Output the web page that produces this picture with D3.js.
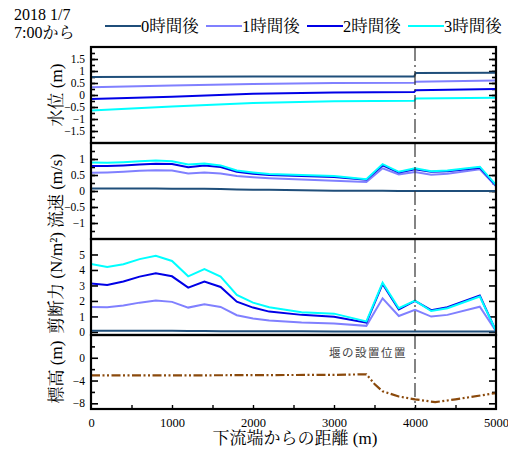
<!DOCTYPE html>
<html><head><meta charset="utf-8">
<script src="https://cdn.jsdelivr.net/npm/d3@7"></script>
<style>body{margin:0;background:#fff}svg{display:block}text{fill:#000}</style>
</head><body><svg id="c" width="508" height="449"></svg>
<script>
const seriesNames = ["0時間後","1時間後","2時間後","3時間後"];
const seriesColors = ["#1f4e7a","#8080ff","#0000e6","#00ffff"];
const xTicks = [0,1000,2000,3000,4000,5000];

// water level
const wlX = [0,1000,2000,3000,3990,4010,5000];
const wl0 = [0.75,0.76,0.77,0.77,0.77,0.92,0.93];
const wl1 = [0.32,0.40,0.46,0.50,0.51,0.55,0.60];
const wl2 = [-0.17,-0.07,0.05,0.10,0.13,0.20,0.25];
const wl3 = [-0.65,-0.48,-0.33,-0.26,-0.24,-0.15,-0.11];

// velocity and shear share stations
const stX = [0,200,400,600,800,1000,1200,1400,1600,1800,2000,2200,2600,3000,3400,3600,3800,4000,4200,4400,4800,5000];
const vel0 = [0.08,0.08,0.08,0.08,0.08,0.07,0.07,0.07,0.06,0.05,0.04,0.04,0.02,0.01,0.01,0.01,0.0,0.0,0.0,0.0,0.0,0.0];
const vel1 = [0.57,0.58,0.60,0.63,0.65,0.64,0.55,0.58,0.55,0.47,0.43,0.40,0.36,0.32,0.28,0.71,0.52,0.59,0.51,0.54,0.68,0.15];
const vel2 = [0.78,0.78,0.80,0.83,0.85,0.84,0.74,0.80,0.75,0.60,0.54,0.50,0.47,0.44,0.35,0.80,0.58,0.68,0.60,0.62,0.73,0.17];
const vel3 = [0.89,0.88,0.90,0.93,0.95,0.93,0.83,0.86,0.80,0.64,0.58,0.53,0.50,0.47,0.37,0.84,0.60,0.71,0.62,0.64,0.76,0.19];
const sh0 = [0.08,0.08,0.08,0.07,0.07,0.07,0.06,0.06,0.05,0.05,0.05,0.04,0.04,0.03,0.03,0.03,0.02,0.02,0.02,0.02,0.02,0.02];
const sh1 = [1.61,1.59,1.70,1.89,2.02,1.94,1.57,1.79,1.61,1.08,0.86,0.73,0.60,0.54,0.39,2.17,1.03,1.42,0.99,1.10,1.63,0.04];
const sh2 = [3.12,3.03,3.25,3.57,3.79,3.59,2.86,3.25,2.90,1.95,1.57,1.31,1.10,0.98,0.60,3.10,1.45,2.00,1.40,1.60,2.35,0.05];
const sh3 = [4.39,4.19,4.37,4.70,4.92,4.58,3.59,4.06,3.57,2.39,1.89,1.59,1.27,1.18,0.68,3.18,1.53,2.02,1.35,1.53,2.28,0.06];

// bed elevation
const bedX = [0,1000,2000,3000,3400,3500,3600,3800,4000,4250,4500,5000];
const bedZ = [-3.1,-3.1,-3.05,-3.0,-2.9,-4.6,-5.9,-6.8,-7.3,-7.8,-7.3,-6.2];
const weirX = 4000;

const SERIF = '"Liberation Serif","Times New Roman",Times,"Noto Serif CJK JP","Noto Sans CJK JP",serif';
const svg = d3.select("#c");
const L = 91, R = 496;
const x = d3.scaleLinear().domain([0,5000]).range([L,R]);

const panels = [
  {top:47,bottom:143,domain:[-2,2],major:[-1.5,-1,-0.5,0,0.5,1,1.5],minor:d3.range(-1.75,1.76,0.25),label:"水位 (m)",
   xs:wlX,ys:[wl0,wl1,wl2,wl3]},
  {top:143,bottom:239,domain:[-1.5,1.5],major:[-1,-0.5,0,0.5,1],minor:d3.range(-1.25,1.26,0.25),label:"流速 (m/s)",
   xs:stX,ys:[vel0,vel1,vel2,vel3]},
  {top:239,bottom:335,domain:[-0.2,6],major:[0,1,2,3,4,5],minor:[],label:"剪断力 (N/m²)",
   xs:stX,ys:[sh0,sh1,sh2,sh3]},
  {top:335,bottom:409,domain:[-9,4],major:[-8,-4,0],minor:[-6,-2,2],label:"標高 (m)",bed:true}
];

panels.forEach((p,i)=>{
  const y = d3.scaleLinear().domain(p.domain).range([p.bottom,p.top]);
  p.y = y;
  const g = svg.append("g");
  g.append("g").attr("transform",`translate(${L},0)`).call(d3.axisRight(y).tickValues(p.major).tickSize(7).tickFormat("")).call(s=>s.select(".domain").remove());
  g.append("g").attr("transform",`translate(${R},0)`).call(d3.axisLeft(y).tickValues(p.major).tickSize(7).tickFormat("")).call(s=>s.select(".domain").remove());
  if(p.minor.length){
    g.append("g").attr("transform",`translate(${L},0)`).call(d3.axisRight(y).tickValues(p.minor).tickSize(4).tickFormat("")).call(s=>s.select(".domain").remove());
    g.append("g").attr("transform",`translate(${R},0)`).call(d3.axisLeft(y).tickValues(p.minor).tickSize(4).tickFormat("")).call(s=>s.select(".domain").remove());
  }
  g.selectAll(".tick line").attr("stroke","#000").attr("stroke-width",1.6);
  g.append("g").attr("transform",`translate(${L},0)`).call(d3.axisLeft(y).tickValues(p.major).tickSize(0).tickPadding(6).tickFormat(d3.format("")))
    .call(s=>s.select(".domain").remove())
    .selectAll("text").attr("font-size",11.5).style("font-family",SERIF);
  const cy = (p.top+p.bottom)/2 + (i===2? -4 : 0);
  svg.append("text").attr("transform",`translate(62,${cy}) rotate(-90)`).attr("text-anchor","middle")
    .attr("font-size",17).style("font-family",SERIF).text(p.label);
});

svg.append("clipPath").attr("id","clip").append("rect").attr("x",L).attr("y",47).attr("width",R-L).attr("height",362);

const plotG = svg.append("g").attr("clip-path","url(#clip)");
panels.forEach(p=>{
  if(p.bed){
    const line = d3.line().x((d,i)=>x(bedX[i])).y(d=>p.y(d));
    plotG.append("path").datum(bedZ).attr("d",line).attr("fill","none").attr("stroke","#8b4a0c")
      .attr("stroke-width",2.2).attr("stroke-dasharray","9,2.5,2,2.5,2,2.5");
    return;
  }
  p.ys.forEach((arr,k)=>{
    const line = d3.line().x((d,i)=>x(p.xs[i])).y(d=>p.y(d));
    plotG.append("path").datum(arr).attr("d",line).attr("fill","none").attr("stroke",seriesColors[k]).attr("stroke-width",2);
  });
});

const b = 409;
svg.append("g").attr("transform",`translate(0,${b})`).call(d3.axisTop(x).tickValues(d3.range(500,5000,500)).tickSize(4).tickFormat(""))
  .call(s=>s.select(".domain").remove()).selectAll("line").attr("stroke-width",1.4);
svg.append("g").attr("transform",`translate(0,${b})`).call(d3.axisBottom(x).tickValues(xTicks).tickSize(0).tickPadding(9).tickFormat(d3.format("")))
  .call(s=>s.select(".domain").remove()).selectAll("text").attr("font-size",12.5).style("font-family",SERIF);

svg.append("line").attr("x1",x(weirX)).attr("x2",x(weirX)).attr("y1",47).attr("y2",409)
  .attr("stroke","#333").attr("stroke-width",1.2).attr("stroke-dasharray","14,4,2,4");
svg.append("rect").attr("x",x(weirX)-82).attr("y",344).attr("width",76).attr("height",16).attr("fill","#fff");
svg.append("text").attr("x",x(weirX)-8).attr("y",357).attr("text-anchor","end").attr("font-size",11.5)
  .attr("letter-spacing",1.5).style("fill","#444").style("font-family",'"Noto Sans CJK JP",sans-serif').text("堰の設置位置");

panels.forEach(p=>{
  svg.append("rect").attr("x",L).attr("y",p.top).attr("width",R-L).attr("height",p.bottom-p.top)
    .attr("fill","none").attr("stroke","#000").attr("stroke-width",2.2);
});

svg.append("text").attr("x",295).attr("y",444).attr("text-anchor","middle").attr("font-size",17).style("font-family",SERIF).text("下流端からの距離 (m)");

svg.append("text").attr("x",14).attr("y",20).attr("font-size",16).style("font-family",SERIF).text("2018 1/7");
svg.append("text").attr("x",14).attr("y",38).attr("font-size",16).style("font-family",SERIF).text("7:00から");
seriesNames.forEach((n,k)=>{
  const x0 = 105 + k*101;
  svg.append("line").attr("x1",x0).attr("x2",x0+36).attr("y1",26).attr("y2",26).attr("stroke",seriesColors[k]).attr("stroke-width",2);
  svg.append("text").attr("x",x0+36).attr("y",32).attr("font-size",16.5).style("font-family",SERIF).text(n);
});
</script></body></html>
